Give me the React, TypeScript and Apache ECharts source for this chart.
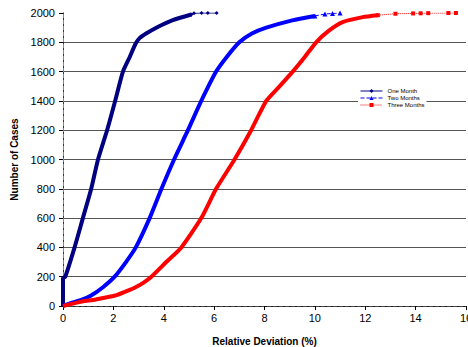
import React, { useEffect, useRef } from "react";
import * as echarts from "echarts";

const seriesNames = ["One Month", "Two Months", "Three Months"];
const seriesColors = ["#000080", "#0000ff", "#ff0000"];

// Dense (thick) part of each cumulative curve
const oneMonthX = [0, 0, 0.09, 0.46, 0.79, 1.12, 1.39, 1.75, 2.07, 2.38, 2.65, 2.88, 3.05, 3.3, 3.76, 4.36, 5.1];
const oneMonthY = [0, 190, 200, 400, 600, 800, 1000, 1200, 1400, 1600, 1700, 1790, 1830, 1860, 1905, 1952, 1990];
// Sparse tail markers
const oneMonthTailX = [5.1, 5.2, 5.5, 5.75, 6.1];
const oneMonthTailY = [1990, 1998, 2000, 2000, 2000];

const twoMonthsX = [0, 0.3, 0.7, 1.1, 1.6, 2.05, 2.5, 2.89, 3.44, 3.91, 4.41, 4.96, 5.49, 6.08, 6.5, 7.0, 7.5, 8.07, 9.1, 10.0];
const twoMonthsY = [0, 20, 40, 70, 130, 200, 300, 400, 600, 800, 1000, 1200, 1400, 1600, 1700, 1800, 1860, 1900, 1950, 1980];
const twoMonthsTailX = [10.0, 10.4, 10.7, 11.0];
const twoMonthsTailY = [1980, 1993, 1997, 2000];

const threeMonthsX = [0, 0.6, 1.3, 2.04, 2.5, 2.9, 3.2, 3.51, 4.1, 4.7, 5.49, 6.08, 6.81, 7.47, 8.07, 8.6, 9.12, 9.6, 10.05, 10.57, 11.1, 11.9, 12.5];
const threeMonthsY = [0, 25, 45, 70, 100, 130, 160, 200, 300, 400, 600, 800, 1000, 1200, 1400, 1500, 1600, 1700, 1800, 1881, 1938, 1972, 1985];
const threeMonthsTailX = [12.5, 13.2, 13.9, 14.2, 14.5, 15.3, 15.6];
const threeMonthsTailY = [1985, 1995, 1997, 1998, 1999, 2000, 2000];

const xTicks = { min: 0, max: 16, interval: 2 };
const yTicks = { min: 0, max: 2000, interval: 200 };

const pairs = (xs: number[], ys: number[]) => xs.map((x, i) => [x, ys[i]]);

export default function App() {
  const ref = useRef<HTMLDivElement>(null);
  useEffect(() => {
    if (!ref.current) return;
    const chart = echarts.init(ref.current, null, { renderer: "svg" });
    const font = "Liberation Sans, Arial, sans-serif";
    const mains = [
      pairs(oneMonthX, oneMonthY),
      pairs(twoMonthsX, twoMonthsY),
      pairs(threeMonthsX, threeMonthsY),
    ];
    const tails = [
      pairs(oneMonthTailX, oneMonthTailY),
      pairs(twoMonthsTailX, twoMonthsTailY),
      pairs(threeMonthsTailX, threeMonthsTailY),
    ];
    const symbols = ["diamond", "triangle", "rect"];
    const symbolSizes = [4, 5, 4];
    const lineTypes = ["solid", "dashed", "dotted"];
    const tailSeries = tails.map((d, i) => ({
      name: seriesNames[i],
      type: "line",
      data: d,
      color: seriesColors[i],
      symbol: symbols[i],
      symbolSize: symbolSizes[i],
      showSymbol: true,
      showAllSymbol: true,
      lineStyle: { width: 1, color: seriesColors[i], type: lineTypes[i] },
      itemStyle: { color: seriesColors[i] },
      z: 2,
    }));
    const mainSeries = mains.map((d, i) => ({
      name: seriesNames[i],
      type: "line",
      data: d,
      color: seriesColors[i],
      symbol: "none",
      smooth: 0.2,
      lineStyle: { width: 4, color: seriesColors[i] },
      z: 3,
    }));
    chart.setOption({
      animation: false,
      backgroundColor: "#fff",
      grid: { left: 63, right: 2, top: 13, bottom: 41, show: false, outerBoundsMode: "none", containLabel: false },
      legend: {
        left: 358,
        top: 86,
        orient: "vertical",
        backgroundColor: "#fff",
        padding: [2, 2, 2, 2],
        itemGap: 1,
        itemWidth: 22,
        itemHeight: 5,
        textStyle: { fontSize: 6, fontFamily: font, color: "#000" },
        data: [
          { name: seriesNames[0], lineStyle: { width: 1, type: "solid" } },
          { name: seriesNames[1], lineStyle: { width: 1, type: "dashed" } },
          { name: seriesNames[2], lineStyle: { width: 1, type: "dotted" } },
        ],
      },
      xAxis: [
        {
          type: "value",
          min: xTicks.min,
          max: xTicks.max,
          interval: xTicks.interval,
          name: "Relative Deviation (%)",
          nameLocation: "middle",
          nameGap: 30,
          nameTextStyle: { fontFamily: font, fontSize: 10, fontWeight: "bold", color: "#000" },
          axisLine: { show: true, lineStyle: { color: "#000", width: 1 } },
          axisTick: { show: true, length: 4, lineStyle: { color: "#000" } },
          axisLabel: { fontFamily: font, fontSize: 11, color: "#000", margin: 6, hideOverlap: false },
          splitLine: { show: false },
        },
        {
          type: "value",
          position: "top",
          min: xTicks.min,
          max: xTicks.max,
          interval: xTicks.interval,
          axisLine: { show: true, lineStyle: { color: "#444", width: 1, type: "dashed" } },
          axisTick: { show: false },
          axisLabel: { show: false },
          splitLine: { show: false },
        },
      ],
      yAxis: [
        {
          type: "value",
          min: yTicks.min,
          max: yTicks.max,
          interval: yTicks.interval,
          name: "Number of Cases",
          nameLocation: "middle",
          nameGap: 33,
          nameTextStyle: { fontFamily: font, fontSize: 10, fontWeight: "bold", color: "#000" },
          axisLine: { show: true, lineStyle: { color: "#000", width: 1 } },
          axisTick: { show: true, length: 4, lineStyle: { color: "#000" } },
          axisLabel: { fontFamily: font, fontSize: 11, color: "#000", margin: 8, formatter: (v: number) => String(v) },
          splitLine: { show: true, showMaxLine: false, lineStyle: { color: "#555", width: 1 } },
        },
        {
          type: "value",
          position: "right",
          min: yTicks.min,
          max: yTicks.max,
          interval: yTicks.interval,
          axisLine: { show: true, lineStyle: { color: "#888", width: 1, type: "dashed" } },
          axisTick: { show: false },
          axisLabel: { show: false },
          splitLine: { show: false },
        },
      ],
      series: [...tailSeries, ...mainSeries],
    });
    return () => chart.dispose();
  }, []);
  return <div ref={ref} style={{ position: "fixed", left: 0, top: 0, width: 468, height: 347 }} />;
}
